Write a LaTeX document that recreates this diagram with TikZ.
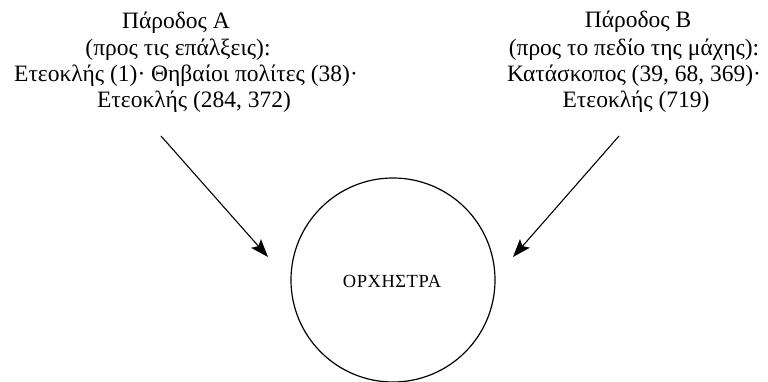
\documentclass[tikz,border=0pt]{standalone}
\usepackage{fontspec}
\setmainfont{Liberation Serif}
\usetikzlibrary{arrows.meta}
\tikzset{
  lbl/.style={anchor=base, inner sep=0pt, font=\fontsize{23.5}{27}\selectfont},
  arr/.style={line width=1.1pt, -{Stealth[length=18pt,width=13pt,inset=3.5pt]}},
  orch/.style={circle, draw, line width=1.2pt, minimum size=204pt, inner sep=0pt}
}
\begin{document}
\begin{tikzpicture}[x=1pt,y=-1pt]
\useasboundingbox (0,0) rectangle (768,382);
% left block
\node[lbl] (a1) at (176,29) {Πάροδος Α};
\node[lbl] (a2) at (178,56) {(προς τις επάλξεις):};
\node[lbl] (a3) at (186,82) {Ετεοκλής (1)· Θηβαίοι πολίτες (38)·};
\node[lbl] (a4) at (194,108) {Ετεοκλής (284, 372)};
% right block
\node[lbl] (b1) at (638,28) {Πάροδος Β};
\node[lbl] (b2) at (634,56) {(προς το πεδίο της μάχης):};
\node[lbl] (b3) at (634,82) {Κατάσκοπος (39, 68, 369)·};
\node[lbl] (b4) at (636,108) {Ετεοκλής (719)};
% orchestra
\node[orch] (o) at (393,280) {};
\node[anchor=center, inner sep=0pt, font=\fontsize{18.5}{22}\selectfont] (ot) at (392,281) {\addfontfeature{LetterSpace=3}ΟΡΧΗΣΤΡΑ};
% arrows
\coordinate (sA) at (161,136);
\coordinate (tA) at (268,257);
\coordinate (sB) at (619,136);
\coordinate (tB) at (513,257);
\draw[arr] (sA) -- (tA);
\draw[arr] (sB) -- (tB);
\end{tikzpicture}
\end{document}
